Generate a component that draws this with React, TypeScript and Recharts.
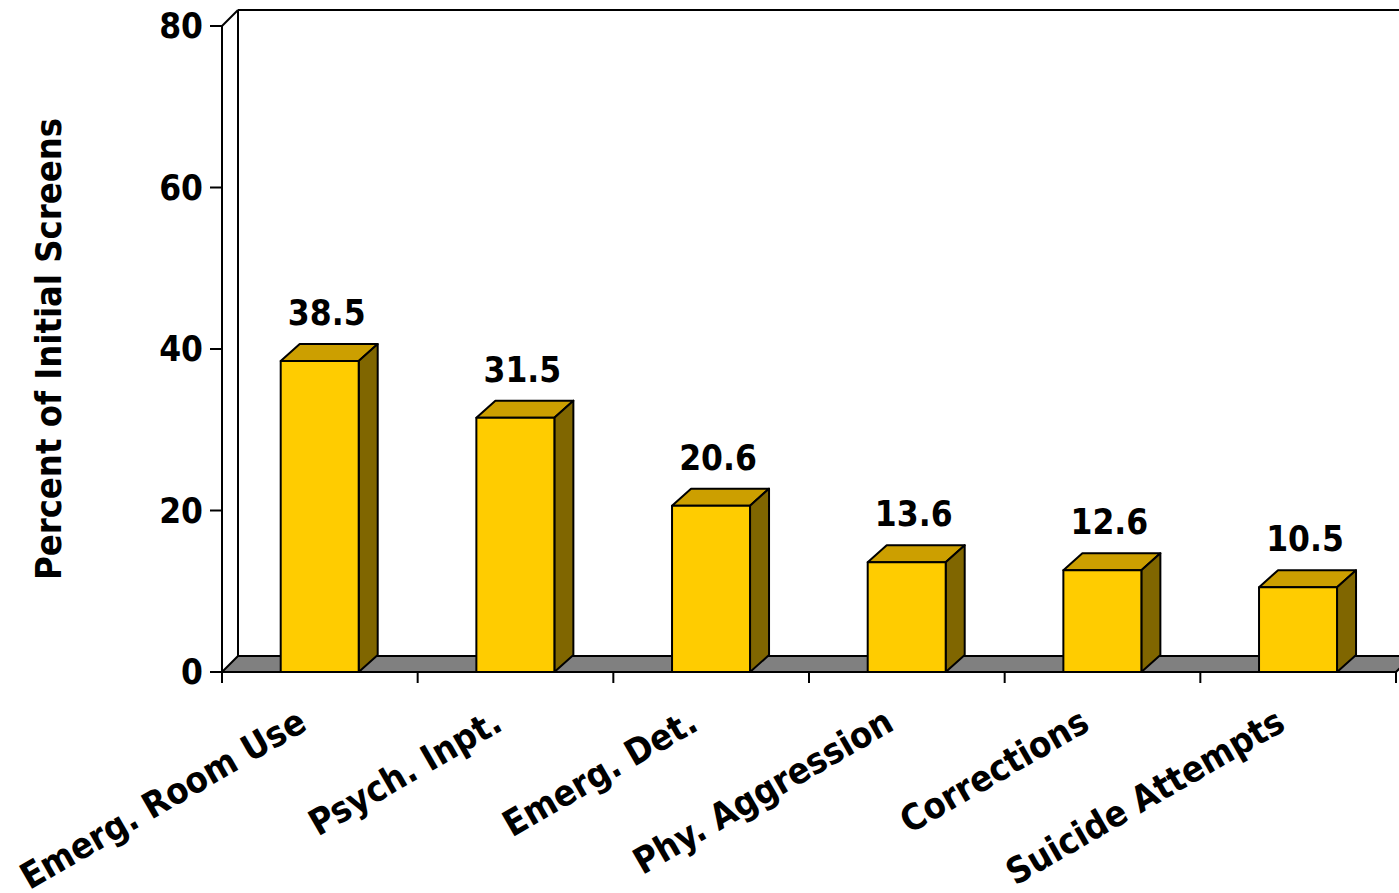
import React from 'react';
import {
  BarChart,
  Bar,
  XAxis,
  YAxis,
  LabelList,
  ReferenceArea,
} from 'recharts';

const categories = [
  'Emerg. Room Use',
  'Psych. Inpt.',
  'Emerg. Det.',
  'Phy. Aggression',
  'Corrections',
  'Suicide Attempts',
];
const percents = [38.5, 31.5, 20.6, 13.6, 12.6, 10.5];
const yTicks = [0, 20, 40, 60, 80];

const rows = categories.map((name, i) => ({ name, pct: percents[i] }));

const FONT = "'DejaVu Sans Condensed', 'DejaVu Sans', sans-serif";
const FONT_SIZE = 35;
const LABEL_SIZE = 36;

// depth of the 3D walls / floor and of the bars
const WALL_DX = 16;
const WALL_DY = 16;
const BAR_DX = 19;
const BAR_DY = 17;

const FRONT = '#FFCC00';
const TOP = '#CC9F00';
const SIDE = '#806600';
const FLOOR = '#808080';

const pts = (p: number[][]) => p.map(([a, b]) => `${a},${b}`).join(' ');

// back wall outline + gray floor, sized from the plot area
const WallAndFloor = (props: any) => {
  const { x, y, width, height } = props;
  const bottom = y + height;
  const right = x + width;
  return (
    <g>
      <polygon
        points={pts([
          [x, bottom],
          [x + WALL_DX, bottom - WALL_DY],
          [right + WALL_DX, bottom - WALL_DY],
          [right, bottom],
        ])}
        fill={FLOOR}
        stroke="#000"
        strokeWidth={2}
        strokeLinejoin="round"
      />
      <line x1={x + WALL_DX} y1={y - WALL_DY} x2={x + WALL_DX} y2={bottom - WALL_DY} stroke="#000" strokeWidth={2} />
      <line x1={x + WALL_DX} y1={y - WALL_DY} x2={right + WALL_DX} y2={y - WALL_DY} stroke="#000" strokeWidth={2} />
      <line x1={x} y1={y} x2={x + WALL_DX} y2={y - WALL_DY} stroke="#000" strokeWidth={2} />
    </g>
  );
};

const Bar3D = (props: any) => {
  const { x, y, width, height } = props;
  if (!height) return null;
  const b = y + height;
  return (
    <g stroke="#000" strokeWidth={2} strokeLinejoin="round">
      <polygon
        points={pts([
          [x, y],
          [x + BAR_DX, y - BAR_DY],
          [x + width + BAR_DX, y - BAR_DY],
          [x + width, y],
        ])}
        fill={TOP}
      />
      <polygon
        points={pts([
          [x + width, y],
          [x + width + BAR_DX, y - BAR_DY],
          [x + width + BAR_DX, b - BAR_DY],
          [x + width, b],
        ])}
        fill={SIDE}
      />
      <rect x={x} y={y} width={width} height={height} fill={FRONT} />
    </g>
  );
};

const ValueLabel = (props: any) => {
  const { x, y, width, value } = props;
  return (
    <text
      x={x + width / 2 + 7}
      y={y - 36}
      textAnchor="middle"
      fontFamily={FONT}
      fontWeight="bold"
      fontSize={FONT_SIZE}
      fill="#000"
    >
      {value}
    </text>
  );
};

// category labels, tilted; tick marks sit on the category boundaries
const CategoryTick = (props: any) => {
  const { x, y, payload, index, visibleTicksCount } = props;
  const half = payload?.offset ?? 0;
  const last = index === visibleTicksCount - 1;
  return (
    <g>
      <line x1={x - half} y1={y} x2={x - half} y2={y + 11} stroke="#000" strokeWidth={2} />
      {last && <line x1={x + half} y1={y} x2={x + half} y2={y + 11} stroke="#000" strokeWidth={2} />}
      <text
        transform={`translate(${x - 11},${y + 57}) rotate(-30)`}
        textAnchor="end"
        fontFamily={FONT}
        fontWeight="bold"
        fontSize={LABEL_SIZE}
        fill="#000"
      >
        {payload.value}
      </text>
    </g>
  );
};

const AxisTitle = (props: any) => {
  const { x, y, height } = props.viewBox;
  return (
    <text
      transform={`translate(${x + 48},${y + height / 2}) rotate(-90)`}
      textAnchor="middle"
      dominantBaseline="central"
      fontFamily={FONT}
      fontWeight="bold"
      fontSize={LABEL_SIZE}
      fill="#000"
    >
      Percent of Initial Screens
    </text>
  );
};

export default function App() {
  return (
    <div style={{ position: 'absolute', left: 0, top: 0, width: 1399, height: 893, overflow: 'hidden', background: '#fff' }}>
      <BarChart
        width={1399}
        height={893}
        data={rows}
        margin={{ top: 26, right: 3, bottom: 0, left: 0 }}
        barCategoryGap="30%"
      >
        <XAxis
          dataKey="name"
          axisLine={{ stroke: '#000', strokeWidth: 2 }}
          tickLine={false}
          tickSize={0}
          tickMargin={0}
          interval={0}
          height={221}
          tick={<CategoryTick />}
        />
        <YAxis
          width={222}
          domain={[0, 80]}
          ticks={yTicks}
          interval={0}
          axisLine={{ stroke: '#000', strokeWidth: 2 }}
          tickLine={{ stroke: '#000', strokeWidth: 2 }}
          tickSize={12}
          tickMargin={7}
          tick={{ fontFamily: FONT, fontWeight: 'bold', fontSize: FONT_SIZE, fill: '#000' }}
          label={<AxisTitle />}
        />
        <ReferenceArea y1={0} y2={80} shape={<WallAndFloor />} ifOverflow="visible" />
        <Bar dataKey="pct" shape={<Bar3D />} isAnimationActive={false}>
          <LabelList dataKey="pct" content={<ValueLabel />} />
        </Bar>
      </BarChart>
    </div>
  );
}
